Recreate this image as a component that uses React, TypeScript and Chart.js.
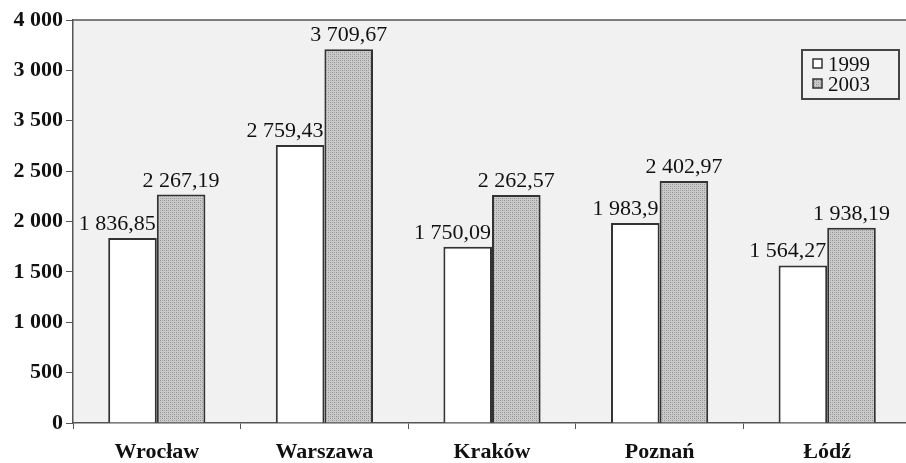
import React, { useEffect, useRef } from 'react';
import { Chart, registerables } from 'chart.js';

Chart.register(...registerables);

const categories = ['Wrocław', 'Warszawa', 'Kraków', 'Poznań', 'Łódź'];
const values1999 = [1836.85, 2759.43, 1750.09, 1983.9, 1564.27];
const values2003 = [2267.19, 3709.67, 2262.57, 2402.97, 1938.19];
const seriesNames = ['1999', '2003'];
// tick labels as printed in the source (note the swapped 3 000 / 3 500)
const yTickLabels = ['0', '500', '1 000', '1 500', '2 000', '2 500', '3 500', '3 000', '4 000'];

const SERIF = '"Liberation Serif", "DejaVu Serif", serif';

function fmt(v: number): string {
  const [i, d] = String(v).split('.');
  const grouped = i.replace(/\B(?=(\d{3})+(?!\d))/g, ' ');
  return d ? grouped + ',' + d : grouped;
}

function makePattern(): CanvasPattern | string {
  const c = document.createElement('canvas');
  c.width = 4;
  c.height = 4;
  const g = c.getContext('2d');
  if (!g) return '#c0c0c0';
  g.fillStyle = '#cacaca';
  g.fillRect(0, 0, 4, 4);
  g.fillStyle = '#8e8e8e';
  g.fillRect(0, 0, 1, 1);
  g.fillRect(2, 2, 1, 1);
  g.fillStyle = '#aaaaaa';
  g.fillRect(2, 0, 1, 1);
  g.fillRect(0, 2, 1, 1);
  const p = g.createPattern(c, 'repeat');
  return p || '#c0c0c0';
}

export default function App() {
  const ref = useRef<HTMLCanvasElement>(null);

  useEffect(() => {
    const canvas = ref.current;
    if (!canvas) return;
    const pattern = makePattern();
    const fills: any[] = ['#ffffff', pattern];

    const decor = {
      id: 'decor',
      beforeDraw(chart: any) {
        const { ctx, chartArea: a } = chart;
        ctx.save();
        ctx.fillStyle = '#ffffff';
        ctx.fillRect(0, 0, chart.width, chart.height);
        ctx.fillStyle = '#f1f1f1';
        ctx.fillRect(a.left, a.top, a.right - a.left, a.bottom - a.top);
        ctx.restore();
      },
      afterDatasetsDraw(chart: any) {
        const { ctx, chartArea: a } = chart;
        ctx.save();
        // top frame line
        ctx.strokeStyle = '#555';
        ctx.lineWidth = 1.5;
        ctx.beginPath();
        ctx.moveTo(a.left, a.top);
        ctx.lineTo(a.right, a.top);
        ctx.stroke();

        // value labels
        ctx.fillStyle = '#111';
        ctx.font = '22px ' + SERIF;
        ctx.textBaseline = 'alphabetic';
        chart.data.datasets.forEach((ds: any, di: number) => {
          const meta = chart.getDatasetMeta(di);
          meta.data.forEach((bar: any, i: number) => {
            const text = fmt(ds.data[i]);
            if (di === 0) {
              ctx.textAlign = 'right';
              ctx.fillText(text, bar.x + bar.width / 2 - 1, bar.y - 8);
            } else {
              ctx.textAlign = 'center';
              ctx.fillText(text, bar.x, bar.y - 8);
            }
          });
        });

        // legend
        const lx = 802, ly = 50, lw = 97, lh = 49;
        ctx.fillStyle = '#f1f1f1';
        ctx.fillRect(lx, ly, lw, lh);
        ctx.strokeStyle = '#444';
        ctx.lineWidth = 2;
        ctx.strokeRect(lx, ly, lw, lh);
        ctx.font = '21px ' + SERIF;
        ctx.textAlign = 'left';
        ctx.textBaseline = 'middle';
        seriesNames.forEach((name, k) => {
          const cy = ly + 14 + k * 20;
          ctx.fillStyle = fills[k];
          ctx.fillRect(lx + 11, cy - 5, 9, 9);
          ctx.strokeStyle = '#333';
          ctx.lineWidth = 1.5;
          ctx.strokeRect(lx + 11, cy - 5, 9, 9);
          ctx.fillStyle = '#111';
          ctx.fillText(name, lx + 26, cy + 1);
        });
        ctx.restore();
      },
    };

    const chart = new Chart(canvas, {
      type: 'bar',
      data: {
        labels: categories,
        datasets: [
          {
            label: seriesNames[0],
            data: values1999,
            backgroundColor: fills[0],
            borderColor: '#333',
            borderWidth: 2,
            categoryPercentage: 0.58,
            barPercentage: 1,
          },
          {
            label: seriesNames[1],
            data: values2003,
            backgroundColor: fills[1],
            borderColor: '#333',
            borderWidth: 2,
            categoryPercentage: 0.58,
            barPercentage: 1,
          },
        ],
      },
      options: {
        responsive: false,
        animation: false,
        layout: { padding: { top: 20, right: 0, left: 0, bottom: 0 } },
        plugins: {
          legend: { display: false },
          tooltip: { enabled: false },
        },
        scales: {
          x: {
            grid: {
              offset: true,
              drawOnChartArea: false,
              drawTicks: true,
              tickLength: 6,
              color: '#555',
            },
            border: { display: true, color: '#555', width: 1.5 },
            ticks: {
              color: '#111',
              font: { family: SERIF, size: 22, weight: 'bold' },
              padding: 10,
              maxRotation: 0,
            },
            afterFit(scale: any) {
              scale.height = 40;
            },
          },
          y: {
            min: 0,
            max: 4000,
            grid: {
              drawOnChartArea: false,
              drawTicks: true,
              tickLength: 7,
              color: '#555',
            },
            border: { display: true, color: '#555', width: 1.5 },
            ticks: {
              stepSize: 500,
              color: '#111',
              padding: 3,
              font: { family: SERIF, size: 22, weight: 'bold' },
              callback: (_v: any, idx: number) => yTickLabels[idx],
            },
            afterFit(scale: any) {
              scale.width = 73;
            },
          },
        },
      },
      plugins: [decor],
    } as any);

    return () => chart.destroy();
  }, []);

  return (
    <div
      style={{
        position: 'fixed',
        left: 0,
        top: 0,
        width: 906,
        height: 463,
        overflow: 'hidden',
        background: '#fff',
      }}
    >
      <canvas ref={ref} width={911} height={463} style={{ display: 'block' }} />
    </div>
  );
}
